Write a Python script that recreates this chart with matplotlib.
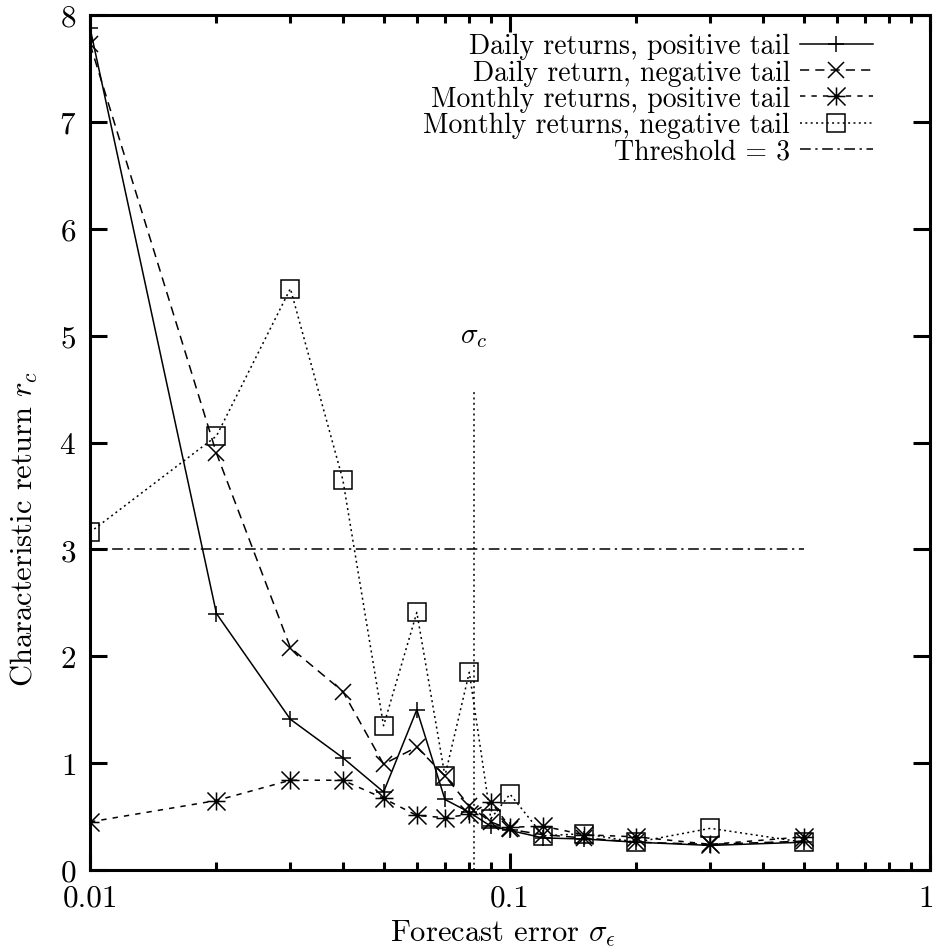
import numpy as np
import matplotlib
matplotlib.use("Agg")
import matplotlib.pyplot as plt
from matplotlib.path import Path
from matplotlib.transforms import ScaledTranslation

plt.rcParams['font.family'] = 'serif'
plt.rcParams['font.serif'] = ['cmr10']
plt.rcParams['mathtext.fontset'] = 'cm'
plt.rcParams['axes.formatter.use_mathtext'] = True

# forecast error values (x) and characteristic returns
sigma = [0.01, 0.02, 0.03, 0.04, 0.05, 0.06, 0.07, 0.08, 0.09, 0.1, 0.12, 0.15, 0.2, 0.3, 0.5]
daily_pos = [7.88, 2.40, 1.41, 1.05, 0.73, 1.50, 0.66, 0.54, 0.41, 0.37, 0.30, 0.29, 0.26, 0.23, 0.26]
daily_neg = [7.73, 3.90, 2.08, 1.67, 0.99, 1.15, 0.88, 0.60, 0.45, 0.38, 0.33, 0.30, 0.26, 0.24, 0.27]
monthly_pos = [0.45, 0.65, 0.84, 0.84, 0.67, 0.51, 0.49, 0.52, 0.64, 0.40, 0.41, 0.33, 0.31, 0.24, 0.31]
monthly_neg = [3.16, 4.06, 5.44, 3.65, 1.35, 2.41, 0.88, 1.85, 0.48, 0.71, 0.32, 0.34, 0.26, 0.39, 0.26]

threshold_x = [0.01, 0.5]
threshold_y = [3, 3]
sigma_c = 0.082
sigma_c_top = 4.47

xticks = [0.01, 0.1, 1]
xticklabels = ['0.01', '0.1', '1']
yticks = [0, 1, 2, 3, 4, 5, 6, 7, 8]

# gnuplot style asterisk = plus + cross
star = Path([(-1, 0), (1, 0), (0, -1), (0, 1), (-1, -1), (1, 1), (-1, 1), (1, -1)],
            [Path.MOVETO, Path.LINETO] * 4)

fig = plt.figure(figsize=(9.34, 9.53), dpi=100)
ax = fig.add_axes([90/934, 82/953, 840/934, 855/953])

fs = 20
lw = 1.1
ax.plot(sigma, daily_pos, color='k', lw=lw, marker='+', ms=12, mew=lw,
        label='Daily returns, positive tail')
ax.plot(sigma, daily_neg, color='k', lw=lw, dashes=(6, 4), marker='x', ms=12, mew=lw,
        label='Daily return, negative tail')
ax.plot(sigma, monthly_pos, color='k', lw=lw, dashes=(3.5, 4), marker=star, ms=13, mew=lw,
        label='Monthly returns, positive tail')
ax.plot(sigma, monthly_neg, color='k', lw=lw, dashes=(1.3, 2.2), marker='s', ms=12.5, mew=lw,
        mfc='none', label='Monthly returns, negative tail')
ax.plot(threshold_x, threshold_y, color='k', lw=lw, dashes=(7, 3, 1.5, 3),
        label='Threshold = 3')

ax.plot([sigma_c, sigma_c], [0, sigma_c_top], color='k', lw=lw, dashes=(1.3, 2.2))
ax.text(sigma_c, 5.0, r'$\sigma_c$', fontsize=21, ha='center', va='center')

ax.set_xscale('log')
ax.set_xlim(0.01, 1)
ax.set_ylim(0, 8)
ax.set_xticks(xticks)
ax.set_xticklabels(xticklabels)
ax.set_yticks(yticks)

for s in ax.spines.values():
    s.set_linewidth(2.2)
ax.tick_params(which='major', direction='in', length=12, width=2.2, top=True, right=True,
               labelsize=22.5, pad=10)
ax.tick_params(which='minor', direction='in', length=6, width=2.2, top=True, right=True)
ax.tick_params(axis='x', which='major', pad=10)

# pull the last x label ("1") a little inside the figure
lab = ax.get_xticklabels()[-1]
lab.set_transform(lab.get_transform() + ScaledTranslation(-4/100, 0, fig.dpi_scale_trans))

ax.set_xlabel(r'Forecast error $\sigma_\epsilon$', fontsize=22)
ax.set_ylabel(r'Characteristic return $r_c$', fontsize=22)
ax.xaxis.set_label_coords(0.492, -0.055)
ax.yaxis.set_label_coords(-0.06, 0.40)

leg = ax.legend(loc='upper right', bbox_to_anchor=(0.932, 0.979), markerfirst=False,
                frameon=False, fontsize=fs, handlelength=2.63, handletextpad=0.35,
                labelspacing=0.0, borderpad=0, borderaxespad=0)

fig.savefig('out.png', dpi=100)
